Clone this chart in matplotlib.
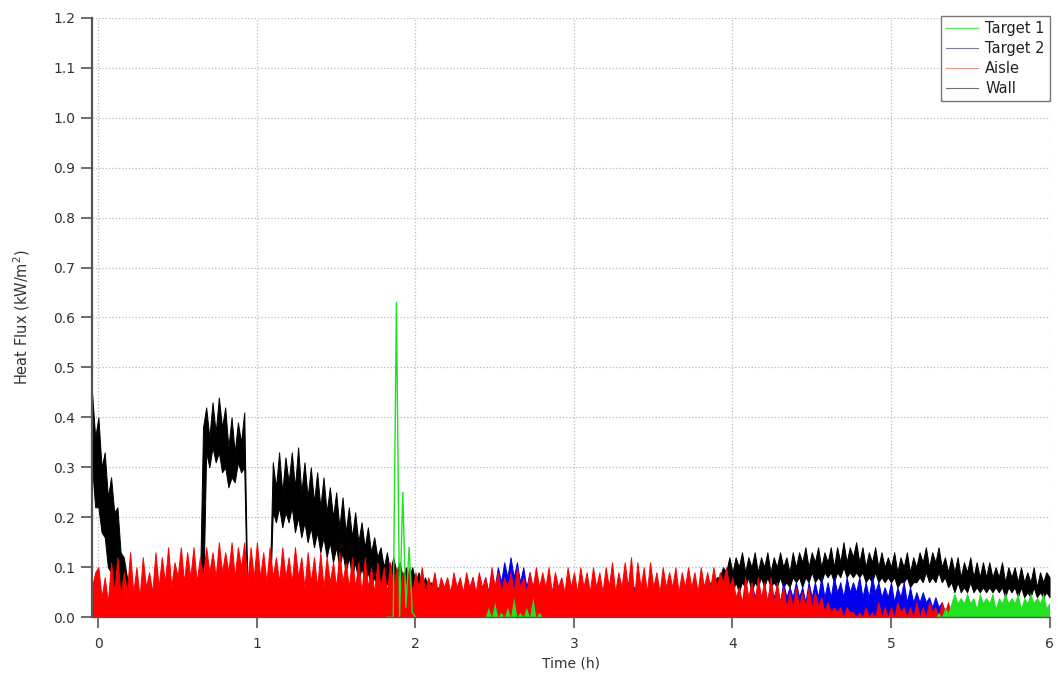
import numpy as np
import matplotlib
matplotlib.use("Agg")
import matplotlib.pyplot as plt
from matplotlib.lines import Line2D

plt.rcParams['font.family'] = ['DejaVu Sans']

# sample bins: -0.04 h to 6.00 h every 0.02 h
# each signal is very noisy, so it is stored as the upper / lower envelope per bin
t0 = -0.04
dt = 0.02

wall_hi = (
    [0.45, 0.36] +
    [0.40, 0.30, 0.33, 0.24, 0.28, 0.21, 0.22, 0.13, 0.12, 0.08] +
    [0.06, 0.04, 0.06, 0.04, 0.06, 0.04, 0.06, 0.04, 0.06, 0.04] +
    [0.06, 0.04, 0.06, 0.04, 0.06, 0.04, 0.06, 0.04, 0.06, 0.04] +
    [0.05, 0.04, 0.05, 0.38, 0.42, 0.36, 0.43, 0.37, 0.44, 0.38] +
    [0.42, 0.34, 0.40, 0.33, 0.39, 0.35, 0.41, 0.05, 0.04, 0.05] +
    [0.05, 0.04, 0.05, 0.04, 0.05, 0.31, 0.26, 0.33, 0.25, 0.32] +
    [0.27, 0.33, 0.26, 0.34, 0.25, 0.31, 0.24, 0.30, 0.23, 0.29] +
    [0.22, 0.28, 0.21, 0.26, 0.20, 0.25, 0.18, 0.24, 0.17, 0.22] +
    [0.16, 0.21, 0.15, 0.19, 0.14, 0.18, 0.13, 0.16, 0.12, 0.14] +
    [0.10, 0.13, 0.09, 0.12, 0.09, 0.11, 0.08, 0.10, 0.08, 0.10] +
    [0.07, 0.09, 0.06, 0.08, 0.06, 0.07, 0.05, 0.06, 0.05, 0.06] +
    [0.05, 0.04, 0.05, 0.04, 0.05, 0.04, 0.05, 0.04, 0.05, 0.04] +
    [0.05, 0.04, 0.05, 0.04, 0.05, 0.04, 0.05, 0.04, 0.05, 0.04] +
    [0.05, 0.04, 0.05, 0.04, 0.05, 0.04, 0.05, 0.04, 0.05, 0.04] +
    [0.05, 0.04, 0.05, 0.04, 0.05, 0.04, 0.05, 0.04, 0.05, 0.04] +
    [0.05, 0.04, 0.05, 0.04, 0.05, 0.04, 0.05, 0.04, 0.05, 0.04] +
    [0.05, 0.04, 0.05, 0.04, 0.05, 0.04, 0.05, 0.04, 0.05, 0.04] +
    [0.05, 0.04, 0.05, 0.04, 0.05, 0.04, 0.05, 0.04, 0.05, 0.04] +
    [0.05, 0.04, 0.05, 0.04, 0.05, 0.04, 0.05, 0.04, 0.05, 0.04] +
    [0.05, 0.06, 0.05, 0.07, 0.06, 0.08, 0.08, 0.10, 0.09, 0.12] +
    [0.09, 0.12, 0.10, 0.13, 0.09, 0.12, 0.10, 0.13, 0.09, 0.12] +
    [0.10, 0.13, 0.09, 0.12, 0.10, 0.13, 0.10, 0.12, 0.09, 0.13] +
    [0.10, 0.13, 0.11, 0.14, 0.10, 0.13, 0.11, 0.14, 0.10, 0.13] +
    [0.11, 0.14, 0.10, 0.14, 0.11, 0.15, 0.11, 0.14, 0.12, 0.15] +
    [0.11, 0.14, 0.10, 0.13, 0.11, 0.14, 0.10, 0.13, 0.10, 0.12] +
    [0.10, 0.13, 0.09, 0.12, 0.10, 0.13, 0.09, 0.12, 0.10, 0.13] +
    [0.11, 0.14, 0.10, 0.13, 0.11, 0.14, 0.10, 0.12, 0.09, 0.12] +
    [0.09, 0.12, 0.08, 0.11, 0.09, 0.12, 0.08, 0.11, 0.08, 0.11] +
    [0.08, 0.11, 0.08, 0.10, 0.08, 0.11, 0.07, 0.10, 0.08, 0.10] +
    [0.07, 0.10, 0.07, 0.09, 0.07, 0.10, 0.06, 0.09, 0.07, 0.09] +
    [0.08]
)

wall_lo = (
    [0.30, 0.22] +
    [0.22, 0.17, 0.16, 0.10, 0.09, 0.05, 0.05, 0.02, 0.02, 0.01] +
    [0.00, 0.00, 0.00, 0.00, 0.00, 0.00, 0.00, 0.00, 0.00, 0.00] +
    [0.00, 0.00, 0.00, 0.00, 0.00, 0.00, 0.00, 0.00, 0.00, 0.00] +
    [0.00, 0.00, 0.00, 0.02, 0.33, 0.30, 0.34, 0.31, 0.33, 0.29] +
    [0.30, 0.26, 0.28, 0.27, 0.31, 0.29, 0.30, 0.00, 0.00, 0.00] +
    [0.00, 0.00, 0.00, 0.00, 0.01, 0.21, 0.19, 0.22, 0.18, 0.21] +
    [0.19, 0.22, 0.17, 0.20, 0.16, 0.19, 0.15, 0.18, 0.14, 0.17] +
    [0.13, 0.16, 0.12, 0.15, 0.11, 0.14, 0.10, 0.13, 0.09, 0.12] +
    [0.08, 0.11, 0.07, 0.10, 0.07, 0.09, 0.06, 0.08, 0.06, 0.07] +
    [0.05, 0.07, 0.05, 0.06, 0.04, 0.06, 0.04, 0.05, 0.04, 0.05] +
    [0.03, 0.04, 0.03, 0.03, 0.02, 0.02, 0.00, 0.00, 0.00, 0.00] +
    [0.00, 0.00, 0.00, 0.00, 0.00, 0.00, 0.00, 0.00, 0.00, 0.00] +
    [0.00, 0.00, 0.00, 0.00, 0.00, 0.00, 0.00, 0.00, 0.00, 0.00] +
    [0.00, 0.00, 0.00, 0.00, 0.00, 0.00, 0.00, 0.00, 0.00, 0.00] +
    [0.00, 0.00, 0.00, 0.00, 0.00, 0.00, 0.00, 0.00, 0.00, 0.00] +
    [0.00, 0.00, 0.00, 0.00, 0.00, 0.00, 0.00, 0.00, 0.00, 0.00] +
    [0.00, 0.00, 0.00, 0.00, 0.00, 0.00, 0.00, 0.00, 0.00, 0.00] +
    [0.00, 0.00, 0.00, 0.00, 0.00, 0.00, 0.00, 0.00, 0.00, 0.00] +
    [0.00, 0.00, 0.00, 0.00, 0.00, 0.00, 0.00, 0.00, 0.00, 0.00] +
    [0.00, 0.00, 0.00, 0.02, 0.03, 0.04, 0.04, 0.05, 0.05, 0.06] +
    [0.05, 0.07, 0.05, 0.07, 0.06, 0.08, 0.05, 0.07, 0.06, 0.08] +
    [0.06, 0.08, 0.06, 0.07, 0.06, 0.08, 0.06, 0.07, 0.06, 0.08] +
    [0.07, 0.08, 0.06, 0.08, 0.07, 0.09, 0.07, 0.08, 0.07, 0.09] +
    [0.08, 0.09, 0.07, 0.09, 0.08, 0.10, 0.08, 0.09, 0.08, 0.09] +
    [0.08, 0.09, 0.07, 0.08, 0.07, 0.09, 0.07, 0.08, 0.07, 0.08] +
    [0.07, 0.08, 0.06, 0.07, 0.07, 0.08, 0.06, 0.07, 0.07, 0.08] +
    [0.07, 0.09, 0.07, 0.08, 0.07, 0.09, 0.07, 0.08, 0.06, 0.07] +
    [0.05, 0.07, 0.05, 0.06, 0.05, 0.07, 0.05, 0.06, 0.05, 0.06] +
    [0.05, 0.06, 0.05, 0.06, 0.05, 0.06, 0.04, 0.06, 0.05, 0.06] +
    [0.04, 0.06, 0.04, 0.05, 0.04, 0.06, 0.04, 0.05, 0.04, 0.05] +
    [0.04]
)

aisle_hi = (
    [0.06, 0.09] +
    [0.10, 0.04, 0.08, 0.03, 0.11, 0.05, 0.12, 0.04, 0.09, 0.05] +
    [0.13, 0.05, 0.10, 0.04, 0.12, 0.06, 0.09, 0.05, 0.13, 0.06] +
    [0.12, 0.07, 0.14, 0.06, 0.11, 0.08, 0.14, 0.07, 0.13, 0.08] +
    [0.14, 0.07, 0.12, 0.08, 0.14, 0.09, 0.13, 0.08, 0.15, 0.09] +
    [0.13, 0.09, 0.15, 0.08, 0.14, 0.10, 0.15, 0.07, 0.14, 0.08] +
    [0.15, 0.08, 0.13, 0.07, 0.14, 0.08, 0.12, 0.07, 0.14, 0.08] +
    [0.12, 0.07, 0.14, 0.08, 0.12, 0.06, 0.13, 0.07, 0.12, 0.06] +
    [0.13, 0.06, 0.12, 0.07, 0.11, 0.06, 0.13, 0.07, 0.11, 0.06] +
    [0.12, 0.06, 0.11, 0.05, 0.12, 0.06, 0.10, 0.05, 0.11, 0.06] +
    [0.10, 0.05, 0.11, 0.06, 0.10, 0.05, 0.09, 0.06, 0.10, 0.05] +
    [0.09, 0.06, 0.10, 0.05, 0.08, 0.06, 0.09, 0.05, 0.08, 0.06] +
    [0.08, 0.05, 0.09, 0.06, 0.08, 0.05, 0.09, 0.06, 0.08, 0.05] +
    [0.09, 0.06, 0.08, 0.05, 0.10, 0.06, 0.09, 0.05, 0.08, 0.06] +
    [0.09, 0.05, 0.10, 0.06, 0.08, 0.05, 0.09, 0.06, 0.10, 0.06] +
    [0.09, 0.06, 0.10, 0.05, 0.09, 0.06, 0.08, 0.05, 0.10, 0.06] +
    [0.09, 0.05, 0.10, 0.06, 0.09, 0.05, 0.10, 0.06, 0.09, 0.05] +
    [0.10, 0.06, 0.11, 0.05, 0.09, 0.06, 0.11, 0.06, 0.12, 0.04] +
    [0.11, 0.06, 0.10, 0.05, 0.11, 0.06, 0.09, 0.05, 0.10, 0.06] +
    [0.09, 0.06, 0.10, 0.05, 0.09, 0.06, 0.10, 0.06, 0.09, 0.05] +
    [0.10, 0.06, 0.09, 0.06, 0.10, 0.06, 0.09, 0.07, 0.10, 0.06] +
    [0.08, 0.04, 0.06, 0.03, 0.08, 0.04, 0.07, 0.03, 0.08, 0.04] +
    [0.07, 0.03, 0.08, 0.03, 0.07, 0.03, 0.06, 0.02, 0.05, 0.02] +
    [0.06, 0.02, 0.05, 0.02, 0.06, 0.02, 0.05, 0.02, 0.04, 0.01] +
    [0.03, 0.01, 0.02, 0.01, 0.02, 0.00, 0.02, 0.01, 0.01, 0.00] +
    [0.01, 0.00, 0.02, 0.00, 0.01, 0.00, 0.03, 0.00, 0.02, 0.00] +
    [0.02, 0.00, 0.03, 0.01, 0.02, 0.00, 0.02, 0.00, 0.03, 0.00] +
    [0.02, 0.00, 0.03, 0.01, 0.02, 0.00, 0.03, 0.01, 0.03, 0.00] +
    [0.00, 0.00, 0.00, 0.00, 0.00, 0.00, 0.00, 0.00, 0.00, 0.00] +
    [0.00, 0.00, 0.00, 0.00, 0.00, 0.00, 0.00, 0.00, 0.00, 0.00] +
    [0.00, 0.00, 0.00, 0.00, 0.00, 0.00, 0.00, 0.00, 0.00, 0.00] +
    [0.00]
)

target2_hi = (
    [0.02, 0.03] +
    [0.04, 0.02, 0.04, 0.02, 0.04, 0.02, 0.04, 0.02, 0.04, 0.02] +
    [0.04, 0.02, 0.04, 0.02, 0.04, 0.02, 0.04, 0.02, 0.04, 0.02] +
    [0.04, 0.02, 0.04, 0.02, 0.04, 0.02, 0.04, 0.02, 0.04, 0.02] +
    [0.04, 0.02, 0.04, 0.02, 0.04, 0.02, 0.04, 0.02, 0.04, 0.02] +
    [0.04, 0.02, 0.04, 0.02, 0.04, 0.02, 0.04, 0.02, 0.04, 0.02] +
    [0.04, 0.02, 0.04, 0.02, 0.04, 0.02, 0.04, 0.02, 0.04, 0.02] +
    [0.04, 0.02, 0.04, 0.02, 0.04, 0.02, 0.04, 0.02, 0.04, 0.02] +
    [0.04, 0.02, 0.04, 0.02, 0.04, 0.02, 0.04, 0.02, 0.04, 0.02] +
    [0.04, 0.02, 0.04, 0.02, 0.04, 0.02, 0.04, 0.02, 0.04, 0.02] +
    [0.04, 0.02, 0.04, 0.02, 0.04, 0.02, 0.04, 0.02, 0.04, 0.02] +
    [0.05, 0.03, 0.05, 0.03, 0.06, 0.03, 0.05, 0.03, 0.06, 0.03] +
    [0.06, 0.04, 0.07, 0.04, 0.06, 0.04, 0.07, 0.04, 0.08, 0.04] +
    [0.07, 0.05, 0.08, 0.05, 0.09, 0.06, 0.10, 0.07, 0.11, 0.08] +
    [0.12, 0.08, 0.11, 0.07, 0.10, 0.06, 0.09, 0.05, 0.08, 0.05] +
    [0.06, 0.03, 0.06, 0.03, 0.06, 0.03, 0.06, 0.03, 0.06, 0.03] +
    [0.06, 0.03, 0.06, 0.03, 0.06, 0.03, 0.06, 0.03, 0.06, 0.03] +
    [0.06, 0.03, 0.06, 0.03, 0.06, 0.03, 0.06, 0.07, 0.06, 0.06] +
    [0.06, 0.03, 0.06, 0.03, 0.06, 0.03, 0.06, 0.03, 0.06, 0.03] +
    [0.06, 0.03, 0.06, 0.03, 0.06, 0.03, 0.06, 0.03, 0.06, 0.03] +
    [0.06, 0.03, 0.06, 0.03, 0.06, 0.03, 0.06, 0.03, 0.06, 0.03] +
    [0.06, 0.03, 0.05, 0.03, 0.06, 0.03, 0.07, 0.04, 0.06, 0.03] +
    [0.06, 0.03, 0.07, 0.04, 0.06, 0.03, 0.07, 0.04, 0.06, 0.04] +
    [0.07, 0.04, 0.06, 0.03, 0.07, 0.04, 0.07, 0.04, 0.08, 0.04] +
    [0.07, 0.04, 0.08, 0.05, 0.07, 0.04, 0.08, 0.05, 0.07, 0.05] +
    [0.08, 0.04, 0.07, 0.04, 0.08, 0.05, 0.07, 0.04, 0.06, 0.04] +
    [0.07, 0.03, 0.06, 0.04, 0.07, 0.03, 0.06, 0.03, 0.05, 0.03] +
    [0.05, 0.03, 0.04, 0.02, 0.04, 0.02, 0.03, 0.01, 0.02, 0.01] +
    [0.01, 0.00, 0.01, 0.00, 0.01, 0.00, 0.01, 0.00, 0.01, 0.00] +
    [0.01, 0.00, 0.01, 0.00, 0.01, 0.00, 0.01, 0.00, 0.01, 0.00] +
    [0.01, 0.00, 0.01, 0.00, 0.01, 0.00, 0.01, 0.00, 0.01, 0.00] +
    [0.00]
)

target1_hi = (
    [0.00, 0.00] +
    [0.00, 0.00, 0.00, 0.00, 0.00, 0.00, 0.00, 0.00, 0.00, 0.00] +
    [0.00, 0.00, 0.00, 0.00, 0.00, 0.00, 0.00, 0.00, 0.00, 0.00] +
    [0.00, 0.00, 0.00, 0.00, 0.00, 0.00, 0.00, 0.00, 0.00, 0.00] +
    [0.00, 0.00, 0.00, 0.00, 0.00, 0.00, 0.00, 0.00, 0.00, 0.00] +
    [0.00, 0.00, 0.00, 0.00, 0.00, 0.00, 0.00, 0.00, 0.00, 0.00] +
    [0.00, 0.00, 0.00, 0.00, 0.00, 0.00, 0.00, 0.00, 0.00, 0.00] +
    [0.00, 0.00, 0.00, 0.00, 0.00, 0.00, 0.00, 0.00, 0.00, 0.00] +
    [0.00, 0.00, 0.00, 0.00, 0.00, 0.00, 0.00, 0.00, 0.00, 0.00] +
    [0.00, 0.00, 0.00, 0.00, 0.00, 0.00, 0.00, 0.00, 0.00, 0.00] +
    [0.00, 0.00, 0.00, 0.00, 0.63, 0.00, 0.25, 0.02, 0.14, 0.01] +
    [0.00, 0.00, 0.00, 0.00, 0.00, 0.00, 0.00, 0.00, 0.00, 0.00] +
    [0.00, 0.00, 0.00, 0.00, 0.00, 0.00, 0.00, 0.00, 0.00, 0.00] +
    [0.00, 0.00, 0.00, 0.02, 0.00, 0.03, 0.00, 0.01, 0.00, 0.02] +
    [0.00, 0.04, 0.00, 0.01, 0.00, 0.02, 0.00, 0.04, 0.00, 0.01] +
    [0.00, 0.00, 0.00, 0.00, 0.00, 0.00, 0.00, 0.00, 0.00, 0.00] +
    [0.00, 0.00, 0.00, 0.00, 0.00, 0.00, 0.00, 0.00, 0.00, 0.00] +
    [0.00, 0.00, 0.00, 0.00, 0.00, 0.00, 0.00, 0.00, 0.00, 0.00] +
    [0.00, 0.00, 0.00, 0.00, 0.00, 0.00, 0.00, 0.00, 0.00, 0.00] +
    [0.00, 0.00, 0.00, 0.00, 0.00, 0.00, 0.00, 0.00, 0.00, 0.00] +
    [0.00, 0.00, 0.00, 0.00, 0.00, 0.00, 0.00, 0.00, 0.00, 0.00] +
    [0.00, 0.00, 0.00, 0.00, 0.00, 0.00, 0.00, 0.00, 0.00, 0.00] +
    [0.00, 0.00, 0.00, 0.00, 0.00, 0.00, 0.00, 0.00, 0.00, 0.00] +
    [0.00, 0.00, 0.00, 0.00, 0.00, 0.00, 0.00, 0.00, 0.00, 0.00] +
    [0.00, 0.00, 0.00, 0.00, 0.00, 0.00, 0.00, 0.00, 0.00, 0.00] +
    [0.00, 0.00, 0.00, 0.00, 0.00, 0.00, 0.00, 0.00, 0.00, 0.00] +
    [0.00, 0.00, 0.00, 0.00, 0.00, 0.00, 0.00, 0.00, 0.00, 0.00] +
    [0.00, 0.00, 0.00, 0.00, 0.00, 0.01, 0.00, 0.02, 0.01, 0.03] +
    [0.05, 0.03, 0.04, 0.03, 0.05, 0.03, 0.04, 0.02, 0.05, 0.03] +
    [0.04, 0.03, 0.05, 0.02, 0.04, 0.03, 0.05, 0.03, 0.04, 0.03] +
    [0.05, 0.02, 0.04, 0.03, 0.05, 0.03, 0.04, 0.03, 0.05, 0.02] +
    [0.03]
)

t = t0 + dt * np.arange(len(wall_hi))
t1 = np.array(target1_hi)

fig = plt.figure(figsize=(10.58, 6.82), dpi=100)
ax = fig.add_axes([0.087, 0.095, 0.905, 0.879])

c_wall = 'black'
c_t2 = '#0000ee'
c_aisle = '#ff0000'
c_t1 = '#22e022'

ax.fill_between(t, wall_lo, wall_hi, color=c_wall, lw=0.7, edgecolor=c_wall)
ax.fill_between(t, 0, target2_hi, color=c_t2, lw=0.7, edgecolor=c_t2)
ax.fill_between(t, 0, aisle_hi, color=c_aisle, lw=0.7, edgecolor=c_aisle)
ax.fill_between(t, 0, t1, where=t > 2.2, color=c_t1, lw=0)
# the lone spike just before 2 h
spike = np.ma.masked_where((t < 1.82) | (t > 2.0), t1)
ax.plot(t, spike, color=c_t1, lw=1.0)

ax.set_xlim(-0.04, 6.0)
ax.set_ylim(0, 1.2)
ax.set_xticks(range(0, 7))
yt = np.arange(0, 1.21, 0.1)
ax.set_yticks(yt)
ax.set_yticklabels([f"{v:.1f}" for v in yt])

ax.grid(True, color='#bbbbbb', linestyle=':', linewidth=0.9)
ax.set_axisbelow(True)

for s in ['top', 'right']:
    ax.spines[s].set_visible(False)
ax.spines['left'].set_color('#555555')
ax.spines['left'].set_linewidth(1.6)
ax.spines['bottom'].set_color('#555555')
ax.spines['bottom'].set_linewidth(1.0)
ax.tick_params(direction='out', length=8, width=1.2, color='#555555',
               labelsize=10, labelcolor='#333333')
ax.tick_params(axis='x', pad=6)
ax.tick_params(axis='y', pad=4)

ax.set_xlabel("Time (h)", fontsize=10, color='#333333', labelpad=4)
ax.set_ylabel("Heat Flux (kW/m$^2$)", fontsize=10.5, color='#333333',
              labelpad=15)

handles = [
    Line2D([], [], color=c_t1, lw=1.0, alpha=0.7),
    Line2D([], [], color='#444466', lw=0.8, alpha=0.7),
    Line2D([], [], color='#dd6655', lw=0.8, alpha=0.7),
    Line2D([], [], color='#333333', lw=0.8, alpha=0.7),
]
leg = ax.legend(handles, ["Target 1", "Target 2", "Aisle", "Wall"],
                loc='upper right', bbox_to_anchor=(1.002, 1.005), fontsize=10.5,
                fancybox=False, framealpha=1, edgecolor='#777777',
                handlelength=2.2, handletextpad=0.5, labelspacing=0.33,
                borderpad=0.35, borderaxespad=0.1)
leg.get_frame().set_linewidth(1.0)
for txt in leg.get_texts():
    txt.set_color('#222222')

fig.savefig("out.png", dpi=100)
